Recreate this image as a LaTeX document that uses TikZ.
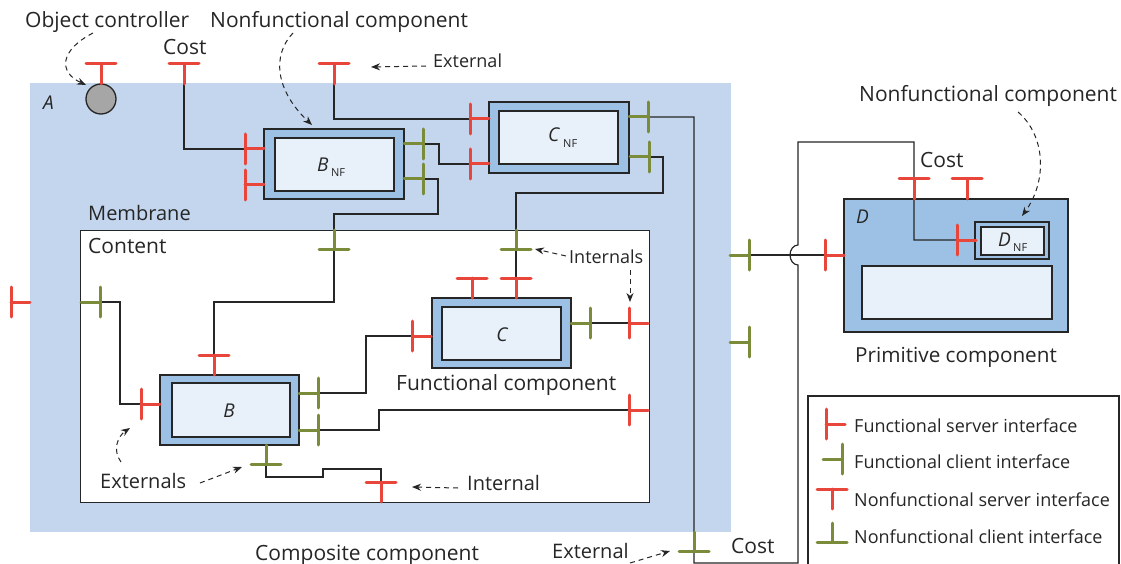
\documentclass[tikz,border=0pt]{standalone}
\usepackage{fontspec}
\setmainfont{Open Sans}
\usetikzlibrary{arrows.meta}
\definecolor{membc}{HTML}{C3D6EE}
\definecolor{compc}{HTML}{9DC1E5}
\definecolor{innc}{HTML}{E8F0F9}
\definecolor{ired}{HTML}{E8463A}
\definecolor{igreen}{HTML}{7A8B3A}
\definecolor{lnc}{HTML}{262626}
\definecolor{gryc}{HTML}{A6A6A6}
\begin{document}
\begin{tikzpicture}[x=1pt,y=-1pt,
  conn/.style={draw=lnc, line width=1.2pt},
  ibar/.style={line width=3pt, line cap=round},
  fsrv/.pic={\draw[ired,ibar] (0,-15)--(0,15); \draw[ired,ibar] (0,0)--(19,0);},
  fcli/.pic={\draw[igreen,ibar] (0,-15)--(0,15); \draw[igreen,ibar] (0,0)--(-19,0);},
  nfsrv/.pic={\draw[ired,ibar] (-15,0)--(15,0); \draw[ired,ibar] (0,0)--(0,20);},
  nfcli/.pic={\draw[igreen,ibar] (-15,0)--(15,0); \draw[igreen,ibar] (0,0)--(0,-19);},
  boxo/.style={draw=lnc, line width=1.3pt, fill=compc, anchor=north west, inner sep=0pt, outer sep=0pt},
  boxi/.style={draw=lnc, line width=1.3pt, fill=innc, anchor=north west, inner sep=0pt, outer sep=0pt},
  lbl/.style={font=\fontsize{21}{21}\selectfont, anchor=base west, inner sep=0pt, text=lnc},
  fs/.style={font=\fontsize{#1}{#1}\selectfont},
  sub/.style={font=\fontsize{11}{11}\selectfont, anchor=base west, inner sep=0pt, text=lnc},
  note/.style={draw=lnc, line width=1pt, dash pattern=on 5pt off 4pt, -{Stealth[length=9pt,width=7pt]}},
]
\useasboundingbox (0,0) rectangle (1121,564);
\fill[white] (0,0) rectangle (1121,564);
% membrane and content
\node[anchor=north west, fill=membc, inner sep=0pt, minimum width=701pt, minimum height=449pt] (memb) at (30,83) {};
\node[anchor=north west, fill=white, draw=lnc, line width=1.3pt, inner sep=0pt, minimum width=569pt, minimum height=272pt] (cont) at (80,230) {};
% components
\node[boxo, minimum width=140pt, minimum height=70pt] (bnf) at (264,129) {};
\node[boxi, minimum width=119pt, minimum height=53pt] (bnfi) at (275,138) {};
\node[boxo, minimum width=140pt, minimum height=71pt] (cnf) at (489,102) {};
\node[boxi, minimum width=119pt, minimum height=53pt] (cnfi) at (499,111) {};
\node[boxo, minimum width=139pt, minimum height=70pt] (bb) at (160,375) {};
\node[boxi, minimum width=118pt, minimum height=54pt] (bbi) at (172,383) {};
\node[boxo, minimum width=139pt, minimum height=70pt] (cc) at (432,298) {};
\node[boxi, minimum width=119pt, minimum height=53pt] (cci) at (442,307) {};
\node[boxo, minimum width=224pt, minimum height=133pt] (dd) at (844,199) {};
\node[boxo, minimum width=74pt, minimum height=37pt] (dnf) at (975,222) {};
\node[boxi, minimum width=63pt, minimum height=28pt] (dnfi) at (981,227) {};
\node[boxi, minimum width=190pt, minimum height=53pt] (ddi) at (862,266) {};
\node[circle, draw=lnc, line width=1.3pt, fill=gryc, minimum size=30pt, inner sep=0pt] (oc) at (101,99) {};
% legend box
\draw[lnc, line width=1.2pt] (808,575) -- (808,396) -- (1119,396) -- (1119,575);
% interface coordinates
\coordinate (ocT) at (101,64);
\coordinate (costT) at (184,64);
\coordinate (extT) at (334,64);
\coordinate (outL) at (11,302);
\coordinate (bnfS1) at (245,149);
\coordinate (bnfS2) at (245,185);
\coordinate (bnfC1) at (423,144);
\coordinate (bnfC2) at (423,179);
\coordinate (cnfS1) at (470,119);
\coordinate (cnfS2) at (470,164);
\coordinate (cnfC1) at (648,117);
\coordinate (cnfC2) at (649,157);
\coordinate (cntT1) at (334,249);
\coordinate (cntT2) at (516,249);
\coordinate (cntL) at (100,302);
\coordinate (cntR1) at (629,323);
\coordinate (cntR2) at (629,410);
\coordinate (bT) at (214,355);
\coordinate (bS) at (141,404);
\coordinate (bC1) at (318,393);
\coordinate (bC2) at (318,430);
\coordinate (bB) at (266,464);
\coordinate (intT) at (381,482);
\coordinate (cT1) at (472,278);
\coordinate (cT2) at (516,278);
\coordinate (cS) at (412,336);
\coordinate (cC) at (590,323);
\coordinate (costB) at (694,551);
\coordinate (outR1) at (749,255);
\coordinate (outR2) at (749,342);
\coordinate (dS) at (825,255);
\coordinate (dT1) at (914,179);
\coordinate (dT2) at (967,179);
\coordinate (dnfS) at (957,240);
\coordinate (lg1) at (826,424);
\coordinate (lg2) at (842,459);
\coordinate (lg3) at (832,489);
\coordinate (lg4) at (832,542);
% connectors
\draw[conn] (costT) |- (bnfS1);
\draw[conn] (extT) |- (cnfS1);
\draw[conn] (bnfC1) -- ++(16,0) |- (cnfS2);
\draw[conn] (bnfC2) -- ++(15,0) -- ++(0,35) -| (cntT1) -- ++(0,53) -| (bT);
\draw[conn] (cntL) -- ++(20,0) |- (bS);
\draw[conn] (bC1) -- ++(48,0) |- (cS);
\draw[conn] (bC2) -- ++(61,0) |- (cntR2);
\draw[conn] (bB) -- ++(0,13) -- ++(57,0) -- ++(0,-8) -| (intT);
\draw[conn] (cT2) -- (cntT2) -- ++(0,-56) -- ++(147,0) |- (cnfC2);
\draw[conn] (cC) -- (cntR1);
\draw[conn] (cnfC1) -| (costB) -- ++(0,12) -- ++(104,0) -- ++(0,-298)
   arc[start angle=90, end angle=270, x radius=8, y radius=10] -- ++(0,-103) -| (dT1) |- (dnfS);
\draw[conn] (outR1) -- (dS);
% interfaces
\foreach \p in {outL,bnfS1,bnfS2,cnfS1,cnfS2,cntR1,cntR2,bS,cS,dS,dnfS,lg1} {\pic at (\p) {fsrv};}
\foreach \p in {bnfC1,bnfC2,cnfC1,cnfC2,cntL,bC1,bC2,cC,outR1,outR2,lg2} {\pic at (\p) {fcli};}
\foreach \p in {ocT,costT,extT,bT,intT,cT1,cT2,dT1,dT2,lg3} {\pic at (\p) {nfsrv};}
\foreach \p in {cntT1,cntT2,bB,costB,lg4} {\pic at (\p) {nfcli};}
% component labels
\node[lbl, fs=19] (la) at (43,110) {\itshape A};
\node[lbl, fs=19] (lbnf) at (317,172) {\itshape B};
\node[sub] (lbnfs) at (331,177) {NF};
\node[lbl, fs=19] (lcnf) at (548,142) {\itshape C};
\node[sub] (lcnfs) at (563,148) {NF};
\node[lbl, fs=19] (ldnf) at (998,246) {\itshape D};
\node[sub] (ldnfs) at (1013,251) {NF};
\node[lbl, fs=19, anchor=base] (lb) at (229,417) {\itshape B};
\node[lbl, fs=19, anchor=base] (lc) at (502,341) {\itshape C};
\node[lbl, fs=19] (ld) at (856,223) {\itshape D};
% texts
\node[lbl] (tobj) at (25,28) {Object controller};
\node[lbl] (tnf1) at (210,28) {Nonfunctional component};
\node[lbl] (tcost1) at (163,55) {Cost};
\node[lbl, fs=18] (text1) at (433,68) {External};
\node[lbl, fs=20] (tmem) at (88,220) {Membrane};
\node[lbl] (tcont) at (88,253) {Content};
\node[lbl, fs=18] (tints) at (569,263) {Internals};
\node[lbl] (tfc) at (396,390) {Functional component};
\node[lbl, fs=20] (texts) at (100,488) {Externals};
\node[lbl, fs=20] (tint) at (467,490) {Internal};
\node[lbl] (tcomp) at (255,560) {Composite component};
\node[lbl, fs=20] (text2) at (552,558) {External};
\node[lbl] (tcost2) at (731,553) {Cost};
\node[lbl] (tnf2) at (859,102) {Nonfunctional component};
\node[lbl] (tcost3) at (920,168) {Cost};
\node[lbl, fs=20.7] (tprim) at (855,362) {Primitive component};
\node[lbl, fs=18] (tl1) at (854,432) {Functional server interface};
\node[lbl, fs=18] (tl2) at (854,468) {Functional client interface};
\node[lbl, fs=18] (tl3) at (854,506) {Nonfunctional server interface};
\node[lbl, fs=18] (tl4) at (854,543) {Nonfunctional client interface};
% annotation arrows
\draw[note] (93,33) .. controls (60,50) and (58,72) .. (86,85);
\draw[note] (293,33) .. controls (272,55) and (275,90) .. (312,125);
\draw[note] (1018,112) .. controls (1045,135) and (1048,180) .. (1022,216);
\draw[note] (121,462) .. controls (112,450) and (118,436) .. (130,428);
\draw[note] (200,483) -- (242,467);
\draw[note] (426,66) -- (371,67);
\draw[note] (566,256) -- (535,249);
\draw[note] (630,270) -- (630,302);
\draw[note] (458,488) -- (412,487);
\draw[note] (630,563) -- (670,551);
\end{tikzpicture}
\end{document}
